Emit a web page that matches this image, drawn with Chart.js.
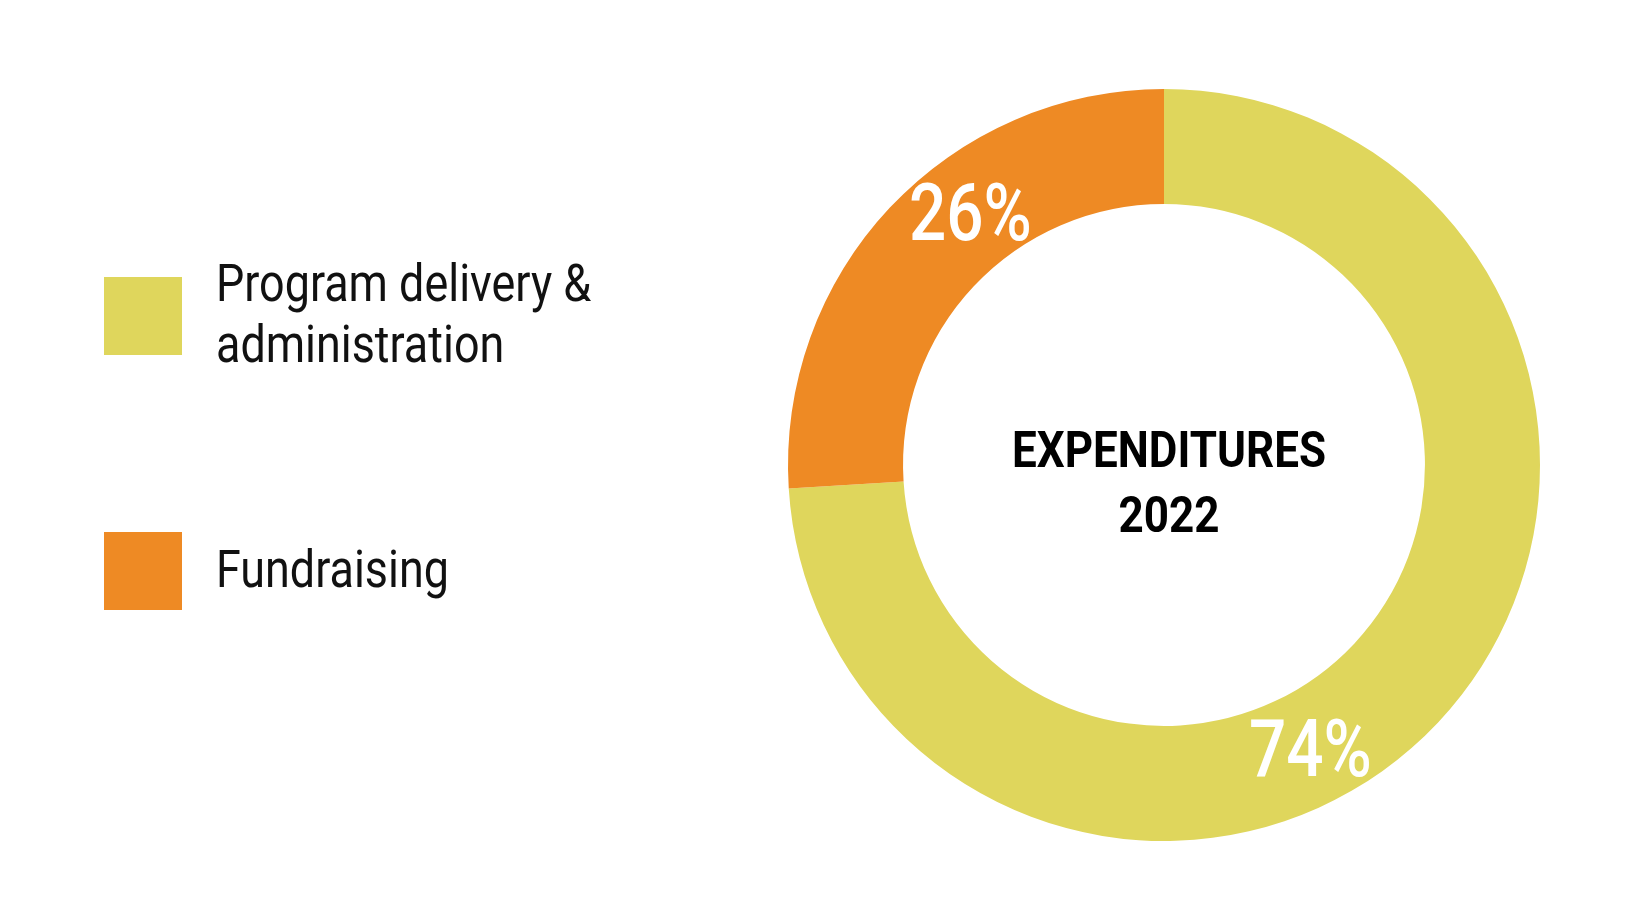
<!DOCTYPE html>
<html>
<head>
<meta charset="utf-8">
<title>Expenditures 2022</title>
<script src="https://cdn.jsdelivr.net/npm/chart.js@4/dist/chart.umd.min.js"></script>
<style>
  html, body { margin: 0; padding: 0; background: #fff; }
  #wrap { width: 1640px; height: 924px; }
</style>
</head>
<body>
<div id="wrap"><canvas id="exp-chart" width="1640" height="924"></canvas></div>
<script>
const categories = [['Program delivery &', 'administration'], 'Fundraising'];
const shares = [74, 26];
const sliceColours = ['#DFD65C', '#EE8A24'];
const centreLines = ['EXPENDITURES', '2022'];

// Roboto Condensed is not installed, so text is squeezed horizontally
function squeezedText(ctx, text, x, y, sx) {
  ctx.save();
  ctx.translate(x, y);
  ctx.scale(sx, 1);
  ctx.fillText(text, 0, 0);
  ctx.restore();
}

const sideLegend = {
  id: 'sideLegend',
  afterDraw(chart) {
    const ctx = chart.ctx;
    const labels = chart.data.labels;
    const colours = chart.data.datasets[0].backgroundColor;
    ctx.save();
    ctx.font = '400 51px Roboto';
    ctx.textAlign = 'left';
    ctx.textBaseline = 'middle';
    labels.forEach((label, i) => {
      const top = 277 + i * 255;
      const size = 78;
      ctx.fillStyle = colours[i];
      ctx.fillRect(104, top, size, size);
      const lines = Array.isArray(label) ? label : [label];
      const lh = 61;
      const mid = top + size / 2 + 3;
      ctx.fillStyle = '#111';
      lines.forEach((line, j) => {
        const y = mid + (j - (lines.length - 1) / 2) * lh;
        squeezedText(ctx, line, 216, y, 0.88);
      });
    });
    ctx.restore();
  }
};

const ringText = {
  id: 'ringText',
  afterDatasetsDraw(chart) {
    const ctx = chart.ctx;
    const meta = chart.getDatasetMeta(0);
    const spots = [0.573, 0.6];
    ctx.save();
    ctx.fillStyle = '#fff';
    ctx.textAlign = 'center';
    ctx.textBaseline = 'alphabetic';
    ctx.font = '500 80px Roboto';
    meta.data.forEach((arc, i) => {
      const a = arc.startAngle + spots[i] * (arc.endAngle - arc.startAngle);
      const r = (arc.innerRadius + arc.outerRadius) / 2;
      const x = arc.x + r * Math.cos(a);
      const y = arc.y + r * Math.sin(a);
      squeezedText(ctx, shares[i] + '%', x, y + 28, 0.82);
    });

    const first = meta.data[0];
    ctx.fillStyle = '#000';
    ctx.font = '700 50px Roboto';
    centreLines.forEach((line, j) => {
      squeezedText(ctx, line, first.x + 5, first.y + 2 + j * 65, 0.88);
    });
    ctx.restore();
  }
};

new Chart(document.getElementById('exp-chart'), {
  type: 'doughnut',
  data: {
    labels: categories,
    datasets: [{
      data: shares,
      backgroundColor: sliceColours,
      borderWidth: 0
    }]
  },
  options: {
    responsive: false,
    animation: false,
    cutout: '69.4%',
    layout: { padding: { left: 788, right: 100, top: 89, bottom: 83 } },
    plugins: {
      legend: { display: false },
      tooltip: { enabled: false }
    }
  },
  plugins: [sideLegend, ringText]
});
</script>
</body>
</html>
